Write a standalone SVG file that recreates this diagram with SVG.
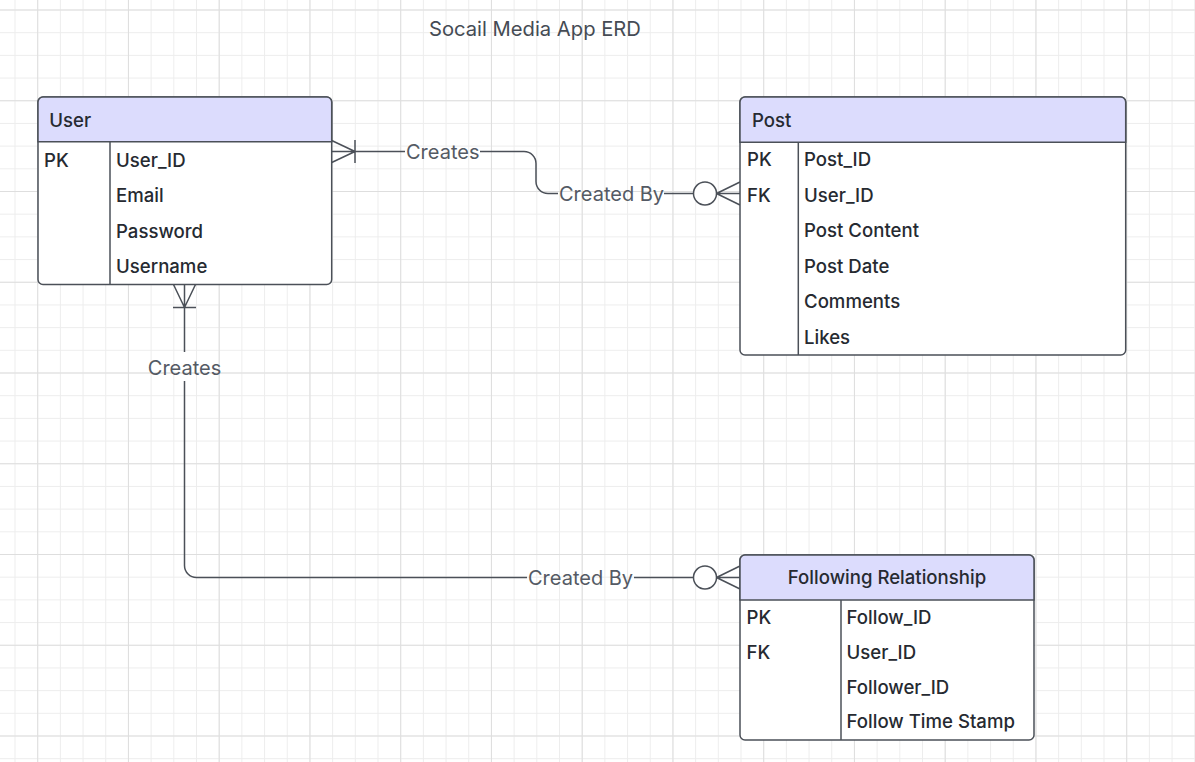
<svg xmlns="http://www.w3.org/2000/svg" width="1195" height="762" viewBox="0 0 1195 762">
<style>
.tbl{fill:#ffffff;stroke:#4b5058;stroke-width:1.5}
.hdr{fill:#dcdcfd;stroke:#4b5058;stroke-width:1.5}
.div{stroke:#4b5058;stroke-width:1.5;fill:none}
.t{font-family:Inter,"Liberation Sans",sans-serif;font-size:18.6px;font-weight:500;fill:#262a31}
.lbl{font-family:Inter,"Liberation Sans",sans-serif;font-size:20px;fill:#545a64}
.ttl{font-family:Inter,"Liberation Sans",sans-serif;font-size:20.2px;fill:#454b54}
.c{stroke:#4b5058;stroke-width:1.5;fill:none}
.circ{stroke:#4b5058;stroke-width:1.5;fill:#ffffff}
</style>
<defs>
<pattern id="minor" x="14.5" y="9.5" width="22.6875" height="22.6875" patternUnits="userSpaceOnUse">
<rect x="0" y="0" width="22.6875" height="1" fill="#ededed"/>
<rect x="0" y="0" width="1" height="22.6875" fill="#ededed"/>
</pattern>
<pattern id="major" x="37.2" y="9.5" width="90.75" height="90.75" patternUnits="userSpaceOnUse">
<rect x="0" y="0" width="90.75" height="1" fill="#dedede"/>
<rect x="0" y="0" width="1" height="90.75" fill="#dedede"/>
</pattern>
</defs>
<rect width="1195" height="762" fill="#ffffff"/>
<rect width="1195" height="762" fill="url(#minor)"/>
<rect width="1195" height="762" fill="url(#major)"/>

<text class="ttl" x="429" y="36">Socail Media App ERD</text>

<g id="connectors">
  <!-- User -> Post -->
  <path class="c" d="M331.7,140.5 L355,151.5 M331.7,162.5 L355,151.5 M331.7,151.5 L355,151.5 M355,140 V163"/>
  <path class="c" d="M355,151.5 H405"/>
  <text class="lbl" x="406" y="158.5">Creates</text>
  <path class="c" d="M480,151.5 H524 A12,12 0 0 1 536,163.5 V181.5 A12,12 0 0 0 548,193.5 H558"/>
  <text class="lbl" x="559" y="200.5">Created By</text>
  <path class="c" d="M664,193.5 H693.5"/>
  <circle class="circ" cx="705" cy="193.5" r="11.5"/>
  <path class="c" d="M716.5,193.5 L740,182 M716.5,193.5 L740,205 M716.5,193.5 H740"/>

  <!-- User -> Following Relationship -->
  <path class="c" d="M173.5,284.5 L184.5,307.5 M195.5,284.5 L184.5,307.5 M184.5,284.5 V307.5 M173,307.5 H196"/>
  <path class="c" d="M184.5,307.5 V352"/>
  <text class="lbl" x="184.5" y="374.5" text-anchor="middle">Creates</text>
  <path class="c" d="M184.5,381 V565.5 A12,12 0 0 0 196.5,577.5 H527"/>
  <text class="lbl" x="528" y="584.5">Created By</text>
  <path class="c" d="M634,577.5 H693.5"/>
  <circle class="circ" cx="705" cy="577.5" r="11.5"/>
  <path class="c" d="M716.5,577.5 L740,566 M716.5,577.5 L740,589 M716.5,577.5 H740"/>
</g>

<g id="user">
  <rect class="tbl" x="38" y="97" width="293.7" height="187.5" rx="5"/>
  <path class="hdr" d="M38,141.7 V102 A5,5 0 0 1 43,97 H326.7 A5,5 0 0 1 331.7,102 V141.7 Z"/>
  <path class="div" d="M110,141.7 V284.5"/>
  <text class="t" x="49.3" y="126.5">User</text>
  <text class="t" x="44" y="166.5">PK</text>
  <text class="t" x="116" y="166.5">User_ID</text>
  <text class="t" x="116" y="202">Email</text>
  <text class="t" x="116" y="237.5">Password</text>
  <text class="t" x="116" y="273">Username</text>
</g>

<g id="post">
  <rect class="tbl" x="740" y="97" width="385.7" height="258" rx="5"/>
  <path class="hdr" d="M740,142.3 V102 A5,5 0 0 1 745,97 H1120.7 A5,5 0 0 1 1125.7,102 V142.3 Z"/>
  <path class="div" d="M798.3,142.3 V355"/>
  <text class="t" x="752" y="126.5">Post</text>
  <text class="t" x="747" y="166">PK</text>
  <text class="t" x="747" y="201.5">FK</text>
  <text class="t" x="804" y="166">Post_ID</text>
  <text class="t" x="804" y="201.5">User_ID</text>
  <text class="t" x="804" y="237">Post Content</text>
  <text class="t" x="804" y="272.5">Post Date</text>
  <text class="t" x="804" y="308">Comments</text>
  <text class="t" x="804" y="343.6">Likes</text>
</g>

<g id="following">
  <rect class="tbl" x="740" y="555" width="294" height="185" rx="5"/>
  <path class="hdr" d="M740,600 V560 A5,5 0 0 1 745,555 H1029 A5,5 0 0 1 1034,560 V600 Z"/>
  <path class="div" d="M841,600 V740"/>
  <text class="t" x="887" y="584.3" text-anchor="middle">Following Relationship</text>
  <text class="t" x="746.5" y="624">PK</text>
  <text class="t" x="746.5" y="658.8">FK</text>
  <text class="t" x="846.5" y="624">Follow_ID</text>
  <text class="t" x="846.5" y="658.8">User_ID</text>
  <text class="t" x="846.5" y="693.5">Follower_ID</text>
  <text class="t" x="846.5" y="728.3">Follow Time Stamp</text>
</g>
</svg>
